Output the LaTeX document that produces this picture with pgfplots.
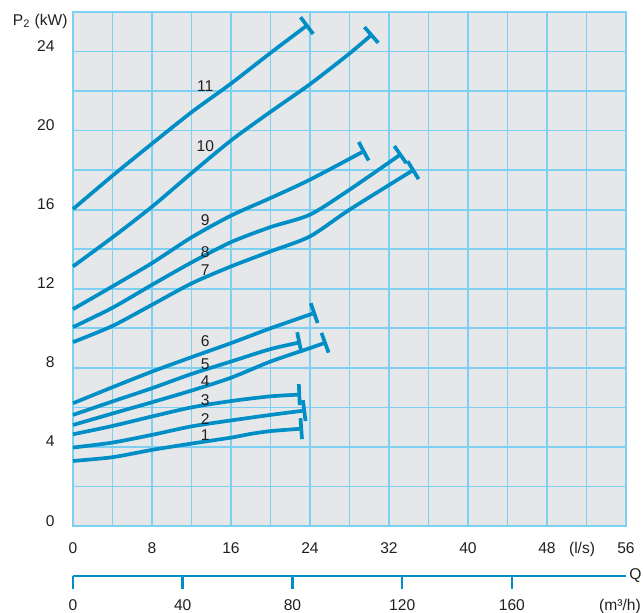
\documentclass[border=0pt]{standalone}
\usepackage{pgfplots}
\pgfplotsset{compat=1.18}
\usetikzlibrary{arrows.meta}
\usepackage{fontspec}
\setmainfont{Liberation Sans}
\definecolor{curve}{RGB}{0,142,199}
\definecolor{gridc}{RGB}{125,208,242}
\definecolor{bgc}{RGB}{230,231,233}
\definecolor{txt}{RGB}{35,31,32}
\begin{document}
\begin{tikzpicture}[font=\fontsize{7.8}{9}\selectfont, text=txt]
\begin{axis}[
 at={(0,0)}, anchor=south west, scale only axis, width=276.5pt, height=257pt,
 xmin=0, xmax=56, ymin=0, ymax=26,
 xtick={0,8,...,56}, ytick={0,4,...,24}, minor x tick num=1, minor y tick num=1,
 grid=both,
 major grid style={gridc, line width=0.85pt},
 minor grid style={gridc, line width=0.85pt},
 axis line style={gridc, line width=0.85pt},
 major tick length=0pt, minor tick length=0pt,
 axis background/.style={fill=bgc},
 /pgf/number format/assume math mode=true,
 xticklabel style={anchor=base, inner sep=0pt, yshift=-13.75pt, text=txt},
 yticklabel style={anchor=base east, inner sep=0pt, xshift=-9pt, text=txt},
 clip=false,
 cycle list={{curve, solid, mark=none}},
 every axis plot/.append style={curve, line width=1.85pt, smooth, tension=0.45, mark=none, -{Bar[width=10.5pt]}},
]
% 1
\addplot coordinates {(0,3.29) (4,3.48) (8,3.85) (12,4.17) (16,4.47) (18,4.66) (20,4.80) (23.3,4.93)};
% 2
\addplot coordinates {(0,3.97) (4,4.22) (8,4.61) (12,5.04) (16,5.34) (20,5.62) (23.6,5.85)};
% 3
\addplot coordinates {(0,4.64) (4,5.06) (8,5.54) (12,6.0) (16,6.32) (20,6.56) (23.1,6.65)};
% 4
\addplot coordinates {(0,5.11) (4,5.69) (8,6.26) (12,6.85) (16,7.5) (20,8.32) (24,9.0) (25.7,9.3)};
% 5
\addplot coordinates {(0,5.62) (4,6.3) (8,6.97) (12,7.69) (16,8.32) (20,8.95) (23.1,9.3)};
% 6
\addplot coordinates {(0,6.21) (4,7.02) (8,7.81) (12,8.54) (16,9.25) (20,10.0) (24.6,10.8)};
% 7
\addplot coordinates {(0,9.3) (4,10.12) (8,11.19) (12,12.27) (16,13.13) (20,13.89) (24,14.65) (28,16.0) (34.6,18.05)};
% 8
\addplot coordinates {(0,10.06) (4,11.04) (8,12.2) (12,13.33) (16,14.36) (20,15.12) (24,15.75) (28,17.01) (33.3,18.84)};
% 9
\addplot coordinates {(0,10.97) (4,12.12) (8,13.3) (12,14.6) (16,15.7) (20,16.59) (24,17.52) (29.6,19.0)};
% 10
\addplot coordinates {(0,13.13) (4,14.6) (8,16.15) (12,17.85) (16,19.5) (20,20.95) (24,22.35) (28,23.9) (30.35,24.9)};
% 11
\addplot coordinates {(0,16.03) (4,17.72) (8,19.34) (12,20.93) (16,22.38) (20,23.93) (23.83,25.37)};

\node at (axis cs:13.4,4.61) {1};
\node at (axis cs:13.4,5.42) {2};
\node at (axis cs:13.4,6.38) {3};
\node at (axis cs:13.4,7.34) {4};
\node at (axis cs:13.4,8.19) {5};
\node at (axis cs:13.4,9.33) {6};
\node at (axis cs:13.4,12.93) {7};
\node at (axis cs:13.4,13.84) {8};
\node at (axis cs:13.4,15.49) {9};
\node at (axis cs:13.4,19.24) {10};
\node at (axis cs:13.4,22.24) {11};
\node[anchor=base, inner sep=0pt, yshift=-13.75pt] at (axis cs:51.55,0) {(l/s)};
\node[anchor=base east, inner sep=0pt, xshift=-2.5pt, yshift=-6.5pt] at (rel axis cs:0,1) {P\textsubscript{2} (kW)};
\end{axis}
\begin{axis}[
 at={(0,-25pt)}, anchor=south west, scale only axis, width=276.5pt, height=1pt,
 xmin=0, xmax=201.6, ymin=0, ymax=1,
 axis x line*=bottom, axis y line=none,
 xtick={0,40,...,160}, ytick=\empty,
 tick align=outside, major tick length=6.5pt,
 x axis line style={curve, line width=1.3pt},
 every tick/.style={curve, line width=1.3pt},
 /pgf/number format/assume math mode=true,
 xticklabel style={anchor=base, inner sep=0pt, yshift=-10.75pt, text=txt},
 clip=false,
]
\node[anchor=base, inner sep=0pt, yshift=-17.25pt] at (axis cs:199.4,0) {(m³/h)};
\node[anchor=west, inner sep=0pt, xshift=1.5pt] at (axis cs:201.6,0) {Q};
\end{axis}
\pgfresetboundingbox
\path[use as bounding box] (-36.5pt,-43pt) rectangle (285pt,263pt);
\end{tikzpicture}
\end{document}
